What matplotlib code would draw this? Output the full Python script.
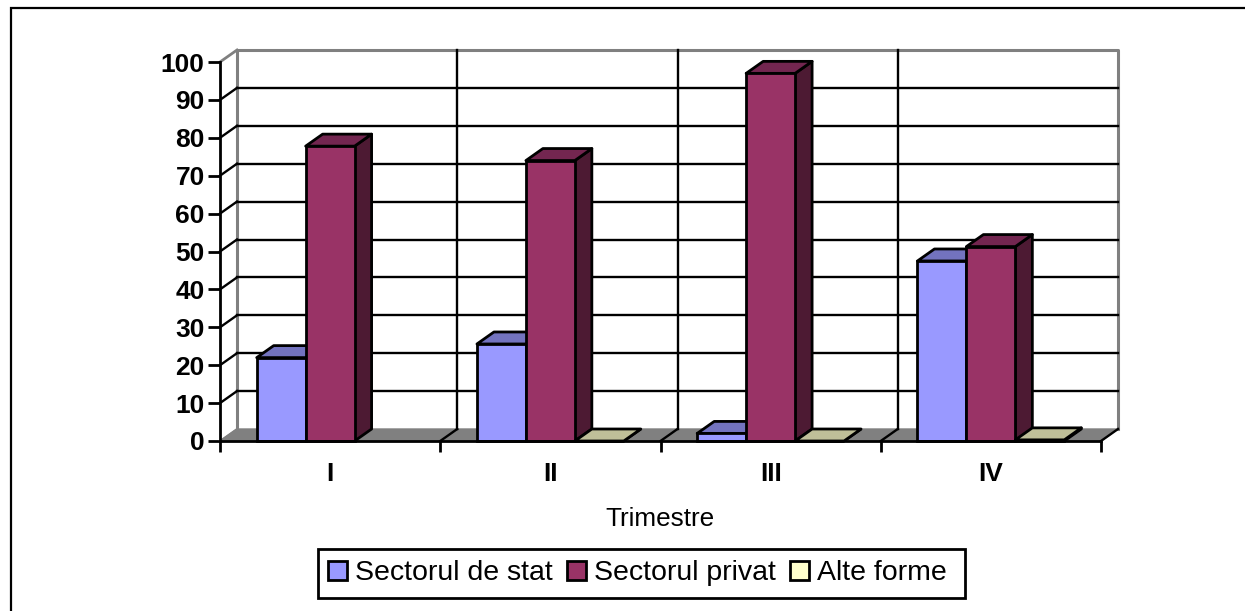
import matplotlib
matplotlib.use('Agg')
import numpy as np
import matplotlib.pyplot as plt
from matplotlib.patches import Polygon, Patch, Rectangle

plt.rcParams['font.family'] = ['Liberation Sans', 'DejaVu Sans']

# Data
kvartalit = ['I', 'II', 'III', 'IV']
sarjat = ['Sectorul de stat', 'Sectorul privat', 'Alte forme']
stat = [22, 25.6, 2, 47.5]
privat = [77.8, 74, 97, 51.3]
alte = [None, 0, 0, 0.3]
arvot = [stat, privat, alte]
y_ticks = list(range(0, 101, 10))

# front, top, side colours
varit = [('#9999FF', '#7373BF', '#4D4D80'),
         ('#993366', '#732650', '#4D1A33'),
         ('#FFFFCC', '#BFBF99', '#808066')]

W, H = 1245, 611
fig = plt.figure(figsize=(W / 100, H / 100), dpi=100)
fig.patch.set_facecolor('white')

# outer chart frame: only left and top are inside the picture
fig.add_artist(plt.Line2D([11 / W, 11 / W, 1], [0, 1 - 8 / H, 1 - 8 / H], transform=fig.transFigure,
                          color='black', lw=1.6, solid_joinstyle='miter'))

# axes = front plane of the 3D box
x0, x1, ytop, ybot = 220, 1101, 62, 441
ax = fig.add_axes([x0 / W, 1 - ybot / H, (x1 - x0) / W, (ybot - ytop) / H])
ax.set_xlim(0, 4)
ax.set_ylim(0, 100)
ax.patch.set_alpha(0)

# depth in data units (17 px right, 12 px up)
dx = 17 / ((x1 - x0) / 4)
dy = 12 / ((ybot - ytop) / 100)

# walls and floor
ax.add_patch(Polygon([(0, 0), (dx, dy), (4 + dx, dy), (4, 0)], fc='#808080', ec='#808080', lw=1, clip_on=False, zorder=1))
ax.plot([dx, dx, 4 + dx, 4 + dx], [dy, 100 + dy, 100 + dy, dy], color='#808080', lw=2.2, clip_on=False, zorder=1.5)
ax.plot([0, dx], [100, 100 + dy], color='#808080', lw=2, clip_on=False, zorder=1.5)

# gridlines on the back wall and their left wall parts
for v in y_ticks[1:-1]:
    ax.plot([dx, 4 + dx], [v + dy, v + dy], color='black', lw=1.7, clip_on=False, zorder=2)
    ax.plot([0, dx], [v, v + dy], color='black', lw=1.7, clip_on=False, zorder=2)
ax.plot([0, dx], [0, dy], color='#808080', lw=1.4, clip_on=False, zorder=2)
for k in range(1, 4):
    ax.plot([k + dx, k + dx], [dy, 100 + dy], color='black', lw=1.7, clip_on=False, zorder=2)
    ax.plot([k, k + dx], [0, dy], color='black', lw=1.7, clip_on=False, zorder=2)
ax.plot([4, 4 + dx], [0, dy], color='black', lw=1.7, clip_on=False, zorder=2)

# bars
lev = 1 / 4.5
alku = (1 - 3 * lev) / 2
for s, arvo in enumerate(arvot):
    for k, v in enumerate(arvo):
        if v is None:
            continue
        vas = k + alku + s * lev
        oik = vas + lev
        z = 3 + k + s * 0.1
        ax.add_patch(Polygon([(oik, 0), (oik + dx, dy), (oik + dx, v + dy), (oik, v)],
                             fc=varit[s][2], ec='black', lw=2, joinstyle='round', clip_on=False, zorder=z))
        ax.add_patch(Polygon([(vas, v), (vas + dx, v + dy), (oik + dx, v + dy), (oik, v)],
                             fc=varit[s][1], ec='black', lw=2, joinstyle='round', clip_on=False, zorder=z))
        ax.bar(vas, v, width=lev, align='edge', color=varit[s][0], ec='black', lw=2, clip_on=False, zorder=z)

# axes and ticks
for nimi in ['top', 'right']:
    ax.spines[nimi].set_visible(False)
for nimi in ['left', 'bottom']:
    ax.spines[nimi].set_linewidth(2)
    ax.spines[nimi].set_zorder(20)
ax.set_yticks(y_ticks)
ax.set_xticks(range(5))
ax.set_xticklabels([])
ax.set_xticks([k + 0.5 for k in range(4)], minor=True)
ax.set_xticklabels(kvartalit, minor=True, fontsize=19, fontweight='bold')
ax.tick_params(axis='y', length=9, width=2, labelsize=19, pad=2)
ax.tick_params(axis='x', which='major', length=8, width=2)
ax.tick_params(axis='x', which='minor', length=0, pad=15)
for t in ax.get_yticklabels():
    t.set_fontweight('bold')

fig.text(660 / W, 1 - 519 / H, 'Trimestre', ha='center', va='center', fontsize=18.8)

# legend box is drawn apart, it is wider on the right than the entries need
fig.add_artist(Rectangle((318 / W, 1 - 598 / H), 647 / W, 49 / H, transform=fig.transFigure,
                         fc='white', ec='black', lw=2))
kahvat = [Patch(fc=varit[i][0], ec='black', lw=2) for i in range(3)]
leg = fig.legend(kahvat, sarjat, loc='center left', bbox_to_anchor=(318 / W, 1 - 573.5 / H), ncol=3, fontsize=20.5,
                 frameon=False, handlelength=0.67, handleheight=0.67, handletextpad=0.28, columnspacing=0.5,
                 borderpad=0.35, borderaxespad=0)

fig.savefig('out.png', dpi=100)
